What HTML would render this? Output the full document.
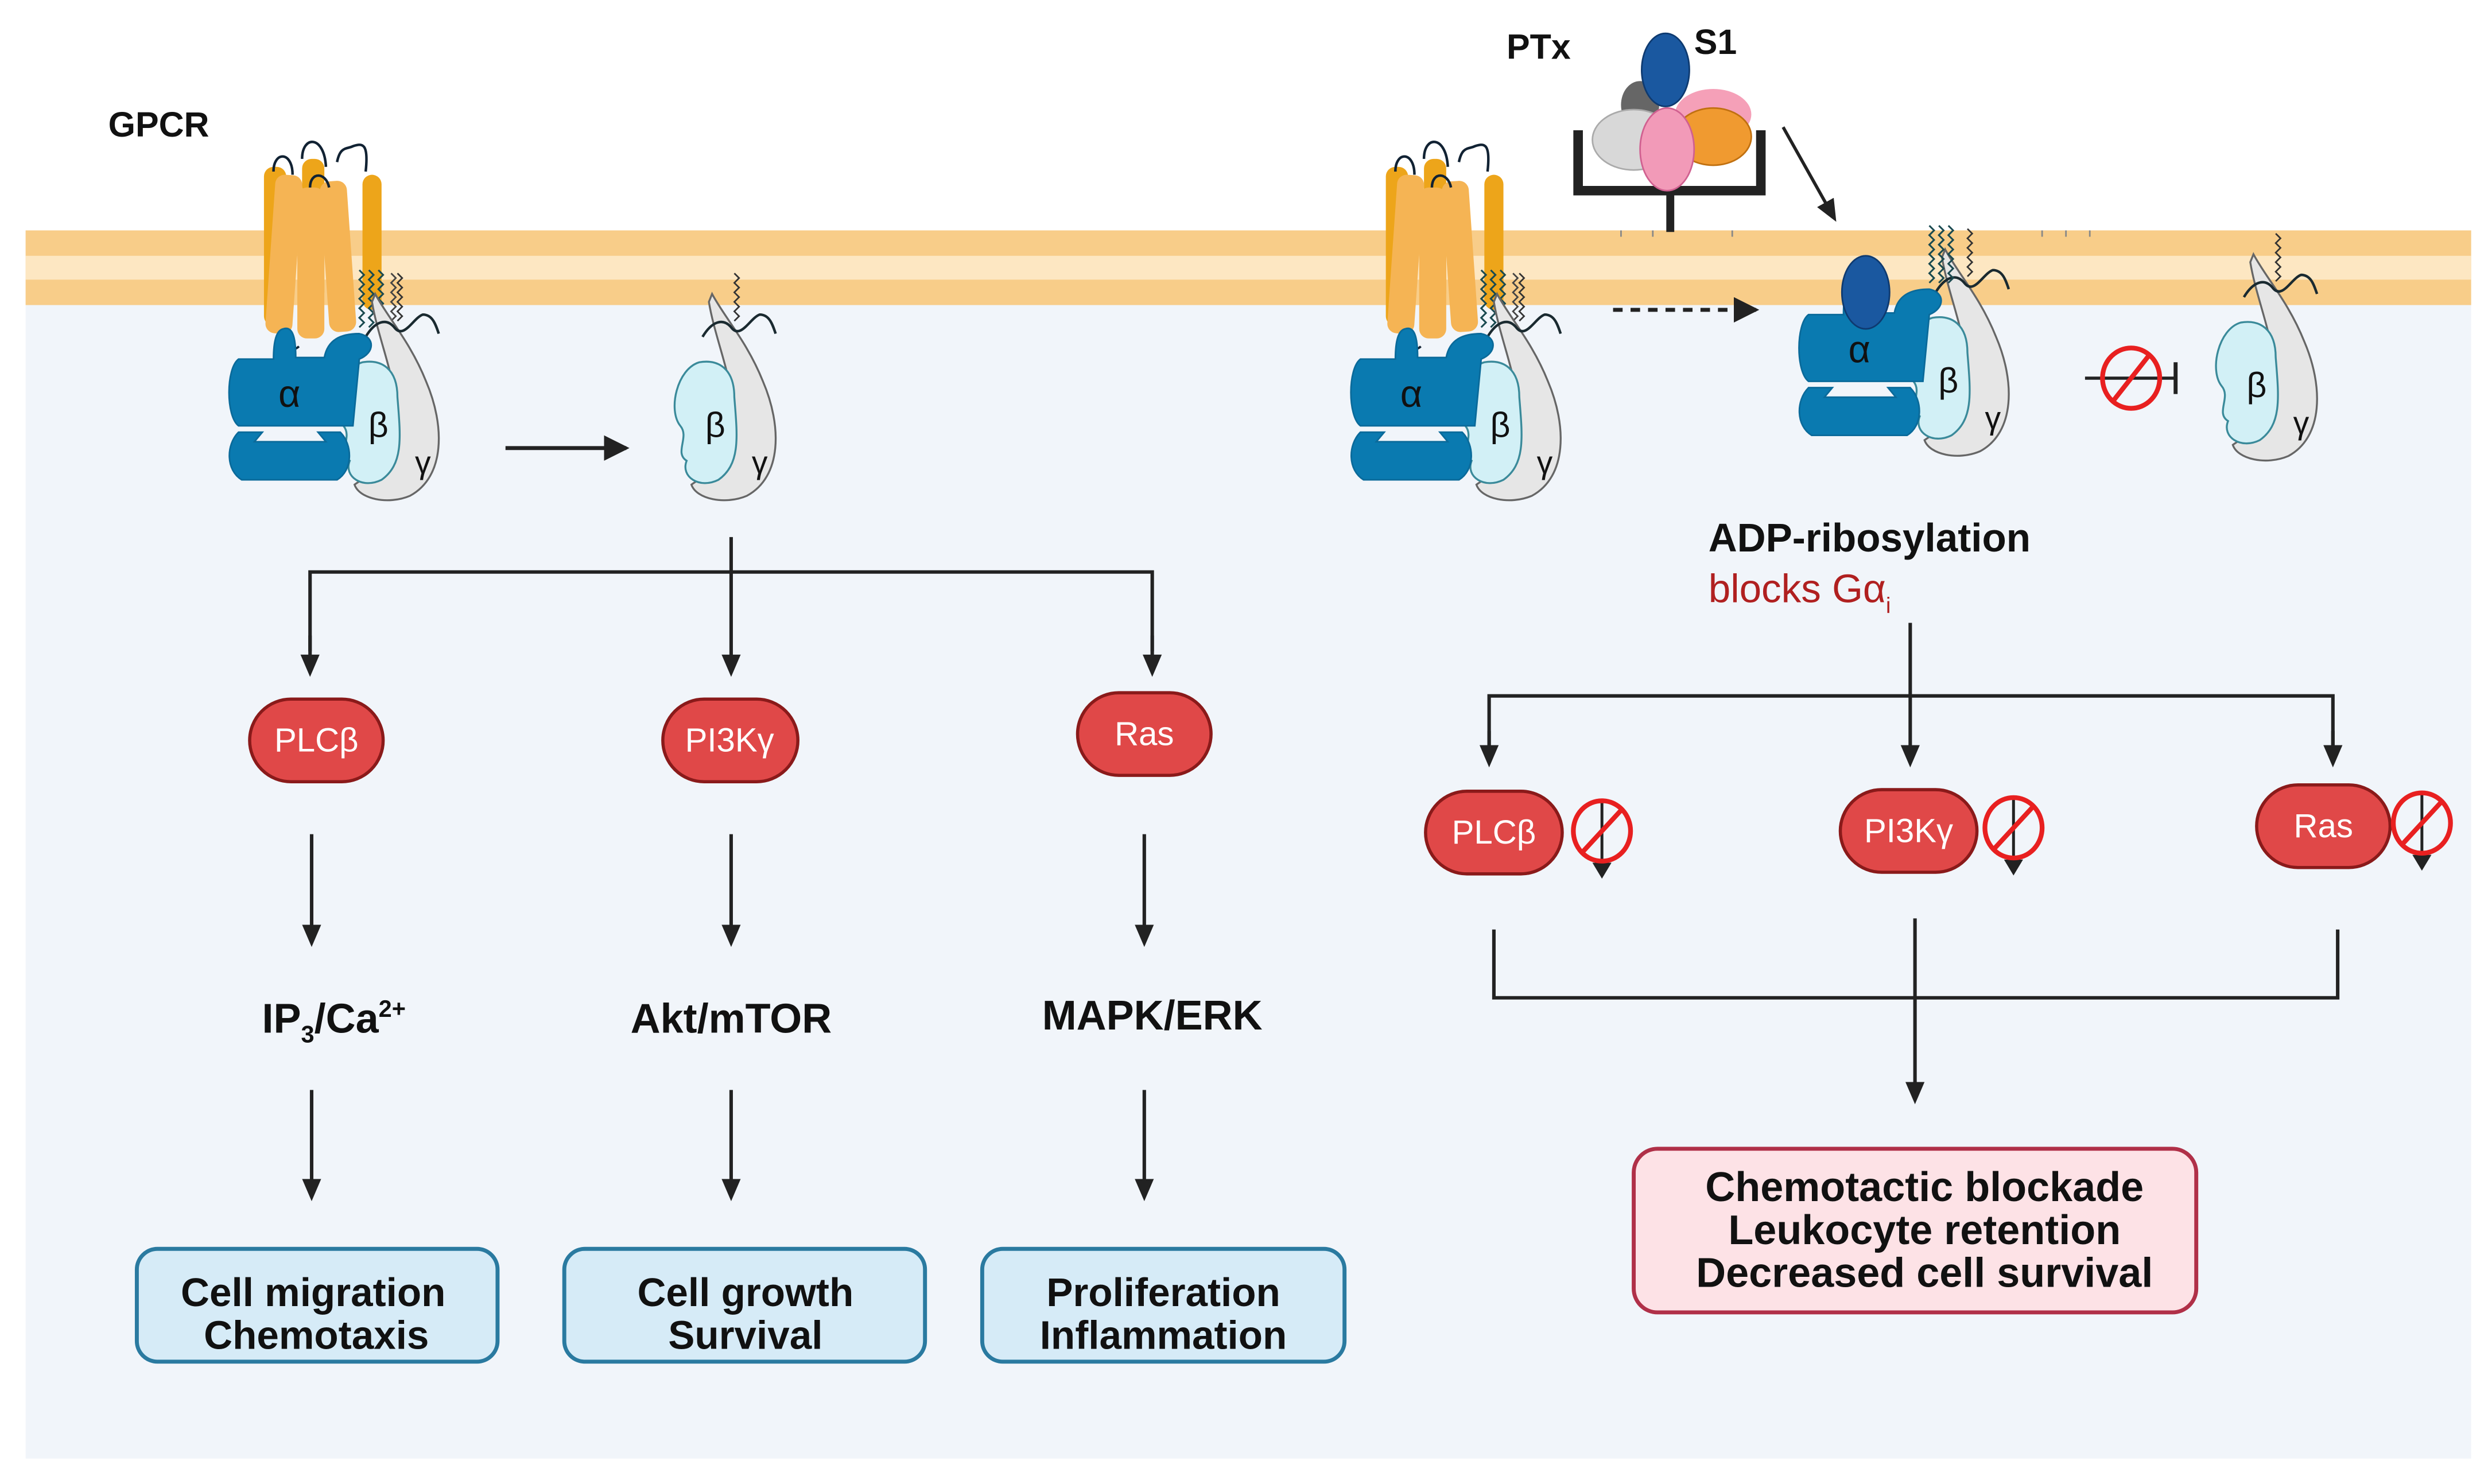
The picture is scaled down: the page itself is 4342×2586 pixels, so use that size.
<!DOCTYPE html>
<html><head><meta charset="utf-8"><style>
html,body{margin:0;padding:0;background:#fff}
svg{display:block}
text{font-family:"Liberation Sans",sans-serif}
</style></head><body>
<svg width="4342" height="2586" viewBox="0 0 1568 934" xmlns="http://www.w3.org/2000/svg">
<defs>
<marker id="ah" markerWidth="14" markerHeight="14" refX="11" refY="6" orient="auto" markerUnits="userSpaceOnUse" viewBox="0 0 14 12">
<path d="M0,0 L14,6 L0,12 z" fill="#222"/></marker>
<marker id="ahb" markerWidth="16" markerHeight="16" refX="14" refY="8" orient="auto" markerUnits="userSpaceOnUse" viewBox="0 0 16 16">
<path d="M0,0 L16,8 L0,16 z" fill="#222"/></marker>
<g id="bg">
 <path d="M448,185 C456,200 470,215 480,240 C492,268 492,300 470,312 C456,318 438,314 435,305 C445,298 460,290 462,270 C464,245 450,215 446,190 z" fill="#e6e6e6" stroke="#666" stroke-width="1.2"/>
 <path d="M440,228 C452,226 462,232 462,250 C464,275 466,292 452,302 C440,308 428,300 432,290 C424,285 434,275 428,268 C420,258 426,232 440,228 z" fill="#d2f0f6" stroke="#3a8a9a" stroke-width="1.2"/>
 <text x="450" y="275" font-size="22" text-anchor="middle" fill="#111">β</text>
 <text x="478" y="298" font-size="20" text-anchor="middle" fill="#111">γ</text>
 <path d="M462,172 l3,3 l-3,3 l3,3 l-3,3 l3,3 l-3,3 l3,3 l-3,3 l3,3 l-3,3" fill="none" stroke="#333" stroke-width="1"/>
 <path d="M442,212 C448,202 455,200 460,206 C466,214 472,200 478,198 C484,198 486,204 488,210" fill="none" stroke="#1a2a30" stroke-width="1.6"/>
</g>
<g id="alpha">
 <path d="M178,207 C184,205 186,212 186,225 L204,225 C206,214 214,210 226,210 C236,212 236,222 226,226 L222,268 L150,268 C142,262 142,232 150,226 L172,226 C172,214 174,208 178,207 z" fill="#0a7ab0" stroke="#0a6a9a" stroke-width="1"/>
 <path d="M150,272 L165,272 L160,278 L205,278 L200,272 L214,272 C222,280 222,296 212,302 L152,302 C142,296 142,280 150,272 z" fill="#0a7ab0" stroke="#0a6a9a" stroke-width="1"/>
 <text x="182" y="256" font-size="24" text-anchor="middle" fill="#111">α</text>
</g>
<g id="gpcr">
 <rect x="166" y="105" width="14" height="100" rx="6" fill="#eda51a"/>
 <rect x="228" y="110" width="12" height="85" rx="6" fill="#eda51a"/>
 <rect x="190" y="100" width="14" height="90" rx="6" fill="#eda51a"/>
 <rect x="170" y="110" width="17" height="100" rx="6" fill="#f5b454" transform="rotate(4 178 160)"/>
 <rect x="187" y="118" width="17" height="95" rx="6" fill="#f5b454"/>
 <rect x="204" y="114" width="17" height="95" rx="6" fill="#f5b454" transform="rotate(-4 211 160)"/>
 <path d="M172,108 C172,95 184,95 184,110 M190,100 C190,85 204,85 205,105 M195,118 C195,108 205,108 207,118 M212,102 C214,92 218,94 222,92 C228,90 232,90 230,108" fill="none" stroke="#123" stroke-width="1.6"/>
 <path d="M176,208 C176,220 184,222 188,218" fill="none" stroke="#123" stroke-width="1.4"/>
 <path d="M226,170 l3,3 l-3,3 l3,3 l-3,3 l3,3 l-3,3 l3,3 l-3,3 l3,3 l-3,3 l3,3 l-3,3 M232,170 l3,3 l-3,3 l3,3 l-3,3 l3,3 l-3,3 l3,3 l-3,3 l3,3 l-3,3 l3,3 l-3,3 M238,170 l3,3 l-3,3 l3,3 l-3,3 l3,3 l-3,3 l3,3 l-3,3 l3,3 l-3,3 l3,3 l-3,3" fill="none" stroke="#1a4a50" stroke-width="1.1"/>
 <path d="M246,172 l3,3 l-3,3 l3,3 l-3,3 l3,3 l-3,3 l3,3 l-3,3 l3,3 l-3,3" fill="none" stroke="#444" stroke-width="1"/>
</g>
<g id="noarr">
 <line x1="0" y1="-20" x2="0" y2="20" stroke="#222" stroke-width="1.8"/>
 <path d="M-6,20 L6,20 L0,30 z" fill="#222"/>
 <ellipse cx="0" cy="0" rx="18" ry="19" fill="none" stroke="#e82020" stroke-width="3"/>
 <line x1="-12" y1="13" x2="12" y2="-13" stroke="#e82020" stroke-width="3"/>
</g>
</defs>

<rect x="0" y="0" width="1568" height="934" fill="#fff"/>
<rect x="16" y="190" width="1539" height="728" fill="#f1f5fa"/>
<rect x="16" y="145" width="1539" height="47" fill="#f8cd89"/>
<rect x="16" y="161" width="1539" height="15" fill="#fde7c2"/>

<text x="68" y="86" font-size="22" font-weight="bold" fill="#111">GPCR</text>

<use href="#gpcr"/>
<use href="#bg" transform="translate(-212,0)"/>
<use href="#alpha"/>
<line x1="318" y1="282" x2="394" y2="282" stroke="#222" stroke-width="2.5" marker-end="url(#ahb)"/>
<use href="#bg"/>

<g stroke="#222" stroke-width="2.2" fill="none">
<line x1="460" y1="338" x2="460" y2="423" marker-end="url(#ah)"/>
<polyline points="195,410 195,360 725,360 725,410" />
<line x1="195" y1="400" x2="195" y2="423" marker-end="url(#ah)"/>
<line x1="725" y1="400" x2="725" y2="423" marker-end="url(#ah)"/>
<line x1="196" y1="525" x2="196" y2="593" marker-end="url(#ah)"/>
<line x1="460" y1="525" x2="460" y2="593" marker-end="url(#ah)"/>
<line x1="720" y1="525" x2="720" y2="593" marker-end="url(#ah)"/>
<line x1="196" y1="686" x2="196" y2="753" marker-end="url(#ah)"/>
<line x1="460" y1="686" x2="460" y2="753" marker-end="url(#ah)"/>
<line x1="720" y1="686" x2="720" y2="753" marker-end="url(#ah)"/>
</g>
<g fill="#e04848" stroke="#8a1a1a" stroke-width="2">
<rect x="157" y="440" width="84" height="52" rx="26"/>
<rect x="417" y="440" width="85" height="52" rx="26"/>
<rect x="678" y="436" width="84" height="52" rx="26"/>
</g>
<g font-size="21" fill="#fff" text-anchor="middle">
<text x="199" y="473">PLCβ</text><text x="459" y="473">PI3Kγ</text><text x="720" y="469">Ras</text>
</g>
<g font-size="26" font-weight="bold" fill="#111" text-anchor="middle">
<text x="210" y="650">IP<tspan font-size="15" dy="6">3</tspan><tspan dy="-6">/Ca</tspan><tspan font-size="15" dy="-10">2+</tspan></text>
<text x="460" y="650">Akt/mTOR</text>
<text x="725" y="648">MAPK/ERK</text>
</g>
<g fill="#d6ebf7" stroke="#2a7aa0" stroke-width="2.5">
<rect x="86" y="786" width="227" height="71" rx="13"/>
<rect x="355" y="786" width="227" height="71" rx="13"/>
<rect x="618" y="786" width="228" height="71" rx="13"/>
</g>
<g font-size="25" font-weight="bold" fill="#111" text-anchor="middle">
<text x="197" y="822">Cell migration</text><text x="199" y="849">Chemotaxis</text>
<text x="469" y="822">Cell growth</text><text x="469" y="849">Survival</text>
<text x="732" y="822">Proliferation</text><text x="732" y="849">Inflammation</text>
</g>

<text x="948" y="37" font-size="22" font-weight="bold" fill="#111">PTx</text>
<text x="1066" y="34" font-size="22" font-weight="bold" fill="#111">S1</text>
<path d="M993,82 L993,120 L1108,120 L1108,82" fill="none" stroke="#222" stroke-width="6"/>
<line x1="1051" y1="120" x2="1051" y2="146" stroke="#222" stroke-width="5"/>
<ellipse cx="1032" cy="66" rx="12" ry="15" fill="#666"/>
<ellipse cx="1028" cy="88" rx="26" ry="19" fill="#d8d8d8" stroke="#aaa"/>
<ellipse cx="1078" cy="72" rx="24" ry="16" fill="#f5a0b8"/>
<ellipse cx="1078" cy="86" rx="24" ry="18" fill="#f09a30" stroke="#c07010"/>
<ellipse cx="1049" cy="94" rx="17" ry="26" fill="#f29ab8" stroke="#d06090"/>
<ellipse cx="1048" cy="44" rx="15" ry="23" fill="#1a58a0" stroke="#0e3a70"/>
<line x1="1122" y1="80" x2="1154" y2="137" stroke="#222" stroke-width="2" marker-end="url(#ah)"/>
<g stroke="#888" stroke-width="1"><line x1="1020" y1="145" x2="1020" y2="149"/><line x1="1040" y1="145" x2="1040" y2="149"/><line x1="1090" y1="145" x2="1090" y2="149"/><line x1="1285" y1="145" x2="1285" y2="149"/><line x1="1300" y1="145" x2="1300" y2="149"/><line x1="1315" y1="145" x2="1315" y2="149"/></g>

<g transform="translate(706,0)">
<use href="#gpcr"/><use href="#bg" transform="translate(-212,0)"/><use href="#alpha"/>
</g>
<line x1="1015" y1="195" x2="1105" y2="195" stroke="#222" stroke-width="2.5" stroke-dasharray="6,5" marker-end="url(#ahb)"/>
<g transform="translate(988,-28)">
<use href="#bg" transform="translate(-212,0)"/><use href="#alpha"/>
</g>
<ellipse cx="1174" cy="184" rx="15" ry="23" fill="#1a58a0" stroke="#0e3a70"/>
<path d="M1214,142 l3,3 l-3,3 l3,3 l-3,3 l3,3 l-3,3 l3,3 l-3,3 l3,3 l-3,3 l3,3 l-3,3 M1220,142 l3,3 l-3,3 l3,3 l-3,3 l3,3 l-3,3 l3,3 l-3,3 l3,3 l-3,3 l3,3 l-3,3 M1226,142 l3,3 l-3,3 l3,3 l-3,3 l3,3 l-3,3 l3,3 l-3,3 l3,3 l-3,3 l3,3 l-3,3" fill="none" stroke="#1a4a50" stroke-width="1.1"/>
<line x1="1312" y1="238" x2="1368" y2="238" stroke="#222" stroke-width="2"/>
<line x1="1369" y1="228" x2="1369" y2="248" stroke="#222" stroke-width="2.5"/>
<ellipse cx="1341" cy="238" rx="18" ry="19" fill="none" stroke="#e82020" stroke-width="3"/>
<line x1="1330" y1="252" x2="1352" y2="224" stroke="#e82020" stroke-width="3"/>
<use href="#bg" transform="translate(970,-25)"/>

<text x="1075" y="347" font-size="25" font-weight="bold" fill="#111">ADP-ribosylation</text>
<text x="1075" y="379" font-size="25" fill="#b02020">blocks Gα<tspan font-size="14" dy="7">i</tspan></text>

<g stroke="#222" stroke-width="2.2" fill="none">
<line x1="1202" y1="392" x2="1202" y2="480" marker-end="url(#ah)"/>
<polyline points="937,470 937,438 1468,438 1468,470"/>
<line x1="937" y1="460" x2="937" y2="480" marker-end="url(#ah)"/>
<line x1="1468" y1="460" x2="1468" y2="480" marker-end="url(#ah)"/>
<polyline points="940,585 940,628 1471,628 1471,585"/>
<line x1="1205" y1="578" x2="1205" y2="692" marker-end="url(#ah)"/>
</g>
<g fill="#e04848" stroke="#8a1a1a" stroke-width="2">
<rect x="897" y="498" width="86" height="52" rx="26"/>
<rect x="1158" y="497" width="86" height="52" rx="26"/>
<rect x="1420" y="494" width="84" height="52" rx="26"/>
</g>
<g font-size="21" fill="#fff" text-anchor="middle">
<text x="940" y="531">PLCβ</text><text x="1201" y="530">PI3Kγ</text><text x="1462" y="527">Ras</text>
</g>
<use href="#noarr" transform="translate(1008,523)"/>
<use href="#noarr" transform="translate(1267,521)"/>
<use href="#noarr" transform="translate(1524,518)"/>

<rect x="1028" y="723" width="354" height="103" rx="15" fill="#fde2e6" stroke="#b03048" stroke-width="2.5"/>
<g font-size="26" font-weight="bold" fill="#111" text-anchor="middle">
<text x="1211" y="756">Chemotactic blockade</text>
<text x="1211" y="783">Leukocyte retention</text>
<text x="1211" y="810">Decreased cell survival</text>
</g>
</svg>
</body></html>
